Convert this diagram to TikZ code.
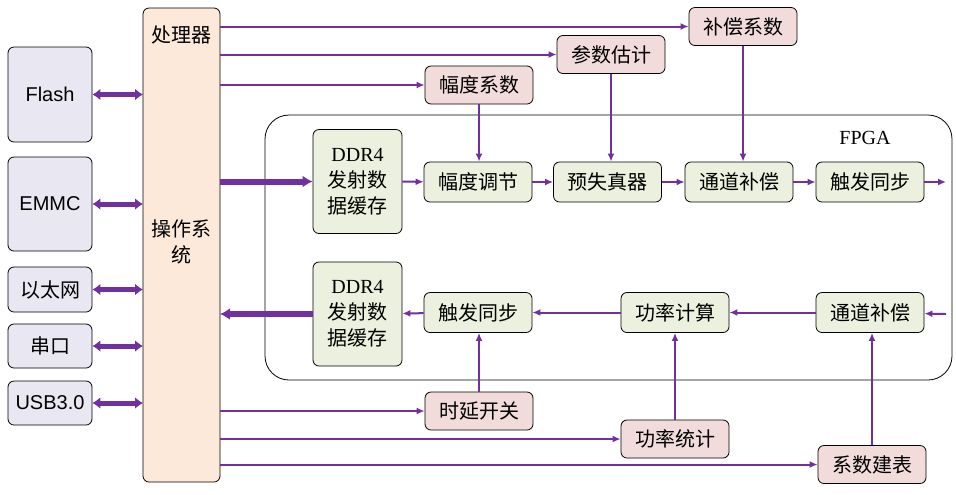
\documentclass[tikz,border=0pt]{standalone}
\usepackage{fontspec}
\setmainfont{Liberation Serif}
\setsansfont{Liberation Sans}
\newfontfamily\cjk{Noto Sans CJK SC}
\usetikzlibrary{arrows.meta}
\definecolor{arr}{HTML}{7030A0}
\definecolor{lav}{HTML}{E9E7F1}
\definecolor{peach}{HTML}{FCE9DA}
\definecolor{lgreen}{HTML}{EBF1DE}
\definecolor{lpink}{HTML}{F2DCDB}
\tikzset{
  box/.style={draw=black, rounded corners=3pt, inner sep=1pt, align=center, font=\cjk\fontsize{10}{13}\selectfont},
  Ext/.style={box, fill=lav, minimum width=42pt},
  Blk/.style={box, fill=lgreen, minimum width=54pt, minimum height=20pt},
  Par/.style={box, fill=lpink, minimum width=54pt, minimum height=19pt},
  Buf/.style={box, fill=lgreen, minimum width=44.5pt, minimum height=52pt},
  flow/.style={-{Latex[length=4pt,width=3.5pt]}, draw=arr, line width=1pt},
  thick flow/.style={-{Latex[length=5pt,width=6pt]}, draw=arr, line width=3pt},
  both/.style={{Latex[length=4pt,width=6pt]}-{Latex[length=4pt,width=6pt]}, draw=arr, line width=2.5pt}
}
\begin{document}
\begin{tikzpicture}[x=0.5pt, y=-0.5pt]
    \useasboundingbox (0,0) rectangle (956,494);
    % processor and external interfaces
    \node[box, fill=peach, minimum width=38.5pt, minimum height=237pt] (CPU) at (181.5,245){};
    \node[font=\cjk\fontsize{10}{13}\selectfont] (CPUt) at (181.5,35){处理器};
    \node[font=\cjk\fontsize{10}{13}\selectfont, align=center] (OS) at (181.5,242){操作系\\统};
    \node[Ext, minimum height=47.5pt, font=\sffamily\fontsize{10}{13}\selectfont] (Fl) at (50,94.5){Flash};
    \node[Ext, minimum height=47pt, font=\sffamily\fontsize{10}{13}\selectfont] (EM) at (50,204){EMMC};
    \node[Ext, minimum height=22.5pt] (Eth) at (50,289.5){以太网};
    \node[Ext, minimum height=22pt] (Ser) at (50,346){串口};
    \node[Ext, minimum height=22pt, font=\sffamily\fontsize{10}{13}\selectfont] (USB) at (50,403){USB3.0};
    \foreach \n/\y in {Fl/94.5, EM/204, Eth/289.5, Ser/346, USB/403}
        \draw[both] (\n.east) -- (143,\y);

    % FPGA
    \node[draw=black, rounded corners=12pt, minimum width=343.5pt, minimum height=132.5pt] (FPGA) at (608.5,247.5){};
    \node[font=\fontsize{10}{12}\selectfont] (FPGAt) at (865,138){FPGA};

    % transmit path
    \node[Buf] (TB) at (357.5,181.5){{\rmfamily DDR4}\\发射数\\据缓存};
    \node[Blk] (AM) at (478,182){幅度调节};
    \node[Blk] (PD) at (607.5,182){预失真器};
    \node[Blk] (CC1) at (739,182){通道补偿};
    \node[Blk] (TS1) at (870,182){触发同步};
    \coordinate (out1) at (946,182);
    \draw[thick flow] (220,181.5) -- (TB.west);
    \draw[flow] (TB) -- (AM);
    \draw[flow] (AM) -- (PD);
    \draw[flow] (PD) -- (CC1);
    \draw[flow] (CC1) -- (TS1);
    \draw[flow] (TS1) -- (out1);

    % receive path
    \node[Buf] (RB) at (357.5,314){{\rmfamily DDR4}\\发射数\\据缓存};
    \node[Blk] (TS2) at (478,312.5){触发同步};
    \node[Blk] (PC) at (675,312.5){功率计算};
    \node[Blk] (CC2) at (870,312.5){通道补偿};
    \coordinate (in2) at (946,314);
    \draw[flow] (in2) -- (CC2);
    \draw[flow] (CC2) -- (PC);
    \draw[flow] (PC) -- (TS2);
    \draw[flow] (TS2) -- (RB);
    \draw[thick flow] (RB.west) -- (220,314);

    % parameters
    \node[Par] (CF) at (743,26.5){补偿系数};
    \node[Par] (PE) at (611,54.5){参数估计};
    \node[Par] (AC) at (479,85){幅度系数};
    \node[Par] (DS) at (479,411){时延开关};
    \node[Par] (PS) at (675,439){功率统计};
    \node[Par] (LT) at (872,464.5){系数建表};
    \draw[flow] (220,26.5) -- (CF.west);
    \draw[flow] (220,54.5) -- (PE.west);
    \draw[flow] (220,85) -- (AC.west);
    \draw[flow] (220,411) -- (DS.west);
    \draw[flow] (220,439) -- (PS.west);
    \draw[flow] (220,464.5) -- (LT.west);
    \draw[flow] (AC.south) -- (AC.south|-AM.north);
    \draw[flow] (PE.south) -- (PE.south|-PD.north);
    \draw[flow] (CF.south) -- (CF.south|-CC1.north);
    \draw[flow] (DS.north) -- (DS.north|-TS2.south);
    \draw[flow] (PS.north) -- (PS.north|-PC.south);
    \draw[flow] (LT.north) -- (LT.north|-CC2.south);
\end{tikzpicture}
\end{document}
